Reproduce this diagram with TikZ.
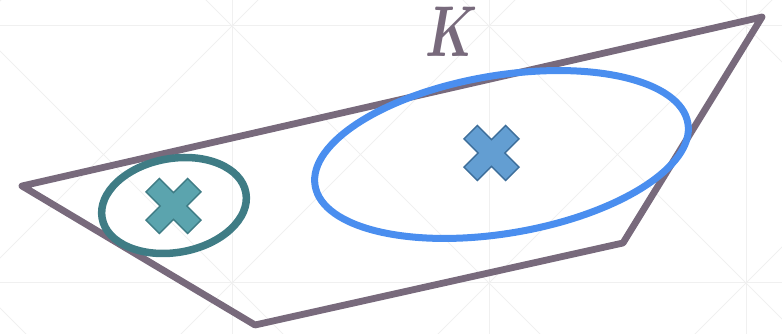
\documentclass[tikz,border=0pt]{standalone}
\newcommand{\boldK}{\hbox{\boldmath$K$}}
\begin{document}
\begin{tikzpicture}[x=1pt,y=1pt,
  gridline/.style={draw=black!6,line width=1pt},
  hull/.style={draw=hullc,line width=6.8pt,line join=round,line cap=round},
  tealring/.style={draw=tealc,line width=7.5pt},
  bluering/.style={draw=bluec,line width=7pt},
  crossmark/.style={line width=1.4pt,line join=miter}]
\definecolor{hullc}{HTML}{786A7C}
\definecolor{tealc}{HTML}{3F7C85}
\definecolor{tealf}{HTML}{5BA4AE}
\definecolor{bluec}{HTML}{4A8EEF}
\definecolor{bluef}{HTML}{639ED2}
\definecolor{bluek}{HTML}{3D6E9A}
\useasboundingbox (0,0) rectangle (782,334);
% background grid
\begin{scope}
\clip (0,0) rectangle (782,334);
\foreach \gx in {-25,232,489,746} \draw[gridline] (\gx,-10) -- (\gx,344);
\foreach \gy in {51,308} \draw[gridline] (-10,\gy) -- (792,\gy);
\foreach \n in {-2,...,5} {
  \draw[gridline] ({283+257*\n+400},-400) -- ({283+257*\n-400},400);
  \draw[gridline] ({-333+257*\n-400},-400) -- ({-333+257*\n+400},400);
}
\end{scope}
% hull
\coordinate (pl) at (22,148);
\coordinate (pb) at (255,9);
\coordinate (pr) at (623,91);
\coordinate (pt) at (762,317);
\draw[hull] (pl) -- (pb) -- (pr) -- (pt) -- cycle;
% ellipses
\draw[tealring] (174,128.5) ellipse[x radius=73,y radius=47,rotate=10];
\draw[bluering] (501.5,179.5) ellipse[x radius=189,y radius=79,rotate=9.5];
% crosses
\newcommand{\crossat}[1]{%
  \begin{scope}[shift={#1},rotate=45]
  \path[crossmark] (-29.4,-9.5) -- (-9.5,-9.5) -- (-9.5,-29.4) -- (9.5,-29.4) -- (9.5,-9.5)
    -- (29.4,-9.5) -- (29.4,9.5) -- (9.5,9.5) -- (9.5,29.4) -- (-9.5,29.4) -- (-9.5,9.5)
    -- (-29.4,9.5) -- cycle;
  \end{scope}}
\begin{scope}[every path/.append style={fill=tealf,draw=tealc}]
\crossat{(173.5,128)}
\end{scope}
\begin{scope}[every path/.append style={fill=bluef,draw=bluek}]
\crossat{(491.5,181)}
\end{scope}
% label
\node[text=hullc,inner sep=0pt,xscale=5.0,yscale=7.2] (klabel) at (452,302) {\boldK};
\end{tikzpicture}
\end{document}
